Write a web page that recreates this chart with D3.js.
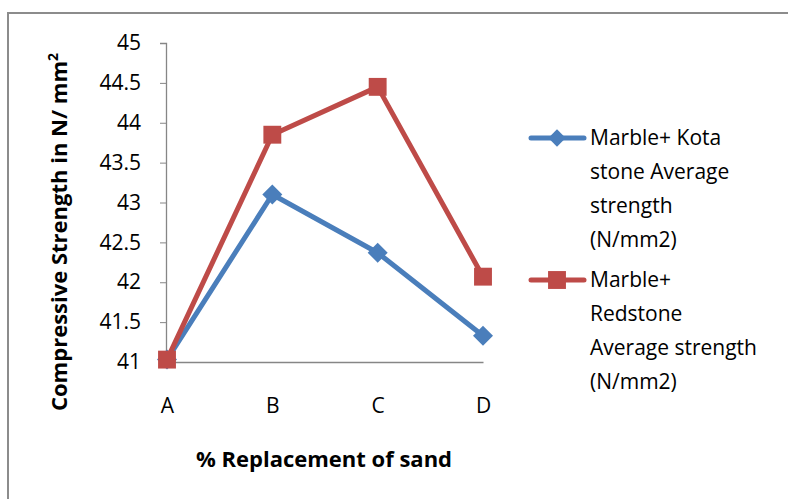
<!DOCTYPE html>
<html>
<head>
<meta charset="utf-8">
<script src="https://cdn.jsdelivr.net/npm/d3@7"></script>
<style>
  body { margin: 0; background: #fff; }
  svg { display: block; font-family: "Open Sans", "DejaVu Sans", sans-serif; }
</style>
</head>
<body>
<svg id="chart" width="788" height="499"></svg>
<script>
const categories = ["A", "B", "C", "D"];
const kotaValues = [41.03, 43.1, 42.37, 41.33];
const redstoneValues = [41.03, 43.85, 44.45, 42.07];
const yTicks = [41, 41.5, 42, 42.5, 43, 43.5, 44, 44.5, 45];
const seriesNames = [
    ["Marble+ Kota", "stone Average", "strength", "(N/mm2)"],
    ["Marble+", "Redstone", "Average strength", "(N/mm2)"],
];

const BLUE = "#4a7ebb";
const RED = "#be4b48";
const FONT = "Open Sans, sans-serif";

const svg = d3.select("#chart");

// outer frame, cut by the window on the right and bottom
svg.append("rect")
    .attr("x", 8).attr("y", 13)
    .attr("width", 800).attr("height", 500)
    .attr("fill", "none")
    .attr("stroke", "#8c8c8c")
    .attr("stroke-width", 2);

const x = d3.scalePoint().domain(categories).range([167, 483]);
const y = d3.scaleLinear().domain([41, 45]).range([362, 43]);

// y axis
const yAxis = svg.append("g")
    .attr("transform", "translate(166,0)")
    .call(d3.axisLeft(y).tickValues(yTicks).tickSize(6).tickPadding(19)
        .tickFormat(d3.format("")));
yAxis.attr("font-size", null).attr("font-family", null);
yAxis.select(".domain").attr("stroke", "#868686").attr("stroke-width", 1.3);
yAxis.selectAll(".tick line").attr("stroke", "#868686");
yAxis.selectAll("text")
    .style("font-size", "21px")
    .style("font-family", FONT)
    .attr("fill", "#000");

// x axis (no ticks, just baseline at 41)
const xAxis = svg.append("g")
    .attr("transform", `translate(0,${y(41)})`)
    .call(d3.axisBottom(x).tickSize(0).tickPadding(36));
xAxis.attr("font-size", null).attr("font-family", null);
xAxis.select(".domain").attr("stroke", "#868686").attr("stroke-width", 1.3);
xAxis.selectAll("text")
    .style("font-size", "21px")
    .style("font-family", FONT)
    .attr("fill", "#000");

// axis titles
svg.append("text")
    .attr("transform", `translate(67,232) rotate(-90)`)
    .attr("text-anchor", "middle")
    .style("font-size", "22px")
    .attr("font-weight", "bold")
    .text("Compressive Strength in N/ mm")
    .append("tspan")
    .attr("dy", -9)
    .style("font-size", "14px")
    .text("2");

svg.append("text")
    .attr("x", 324).attr("y", 467)
    .attr("text-anchor", "middle")
    .style("font-size", "22px")
    .attr("font-weight", "bold")
    .text("% Replacement of sand");

const line = d3.line()
    .x((d, i) => x(categories[i]))
    .y(d => y(d));

function drawSeries(values, color, diamond) {
    svg.append("path")
        .datum(values)
        .attr("d", line)
        .attr("fill", "none")
        .attr("stroke", color)
        .attr("stroke-width", 5)
        .attr("stroke-linejoin", "round");
    svg.append("g").selectAll("path")
        .data(values)
        .join("path")
        .attr("transform", (d, i) => `translate(${x(categories[i])},${y(d)})` + (diamond ? " rotate(45)" : ""))
        .attr("d", d3.symbol().type(d3.symbolSquare).size(diamond ? 200 : 320)())
        .attr("fill", color);
}

drawSeries(kotaValues, BLUE, true);
drawSeries(redstoneValues, RED, false);

// legend
const legendY = [138, 280];
const colors = [BLUE, RED];
seriesNames.forEach((lines, k) => {
    const g = svg.append("g").attr("transform", `translate(0,${legendY[k]})`);
    g.append("line")
        .attr("x1", 531).attr("x2", 584)
        .attr("stroke", colors[k])
        .attr("stroke-width", 5)
        .attr("stroke-linecap", "round");
    g.append("path")
        .attr("transform", k === 0 ? "translate(557,0) rotate(45)" : "translate(557,0)")
        .attr("d", d3.symbol().type(d3.symbolSquare).size(k === 0 ? 150 : 320)())
        .attr("fill", colors[k]);
    const t = g.append("text")
        .attr("x", 590).attr("y", 7)
        .style("font-size", "21px");
    lines.forEach((s, i) => {
        t.append("tspan").attr("x", 590).attr("dy", i === 0 ? 0 : 34).text(s);
    });
});
</script>
</body>
</html>
